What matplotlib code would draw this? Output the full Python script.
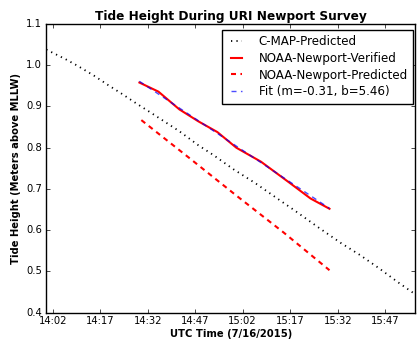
# tide height comparison plot, recreated from the survey figure
import matplotlib
matplotlib.use('Agg')
import matplotlib.pyplot as plt
import numpy as np

'''data (decimal hours UTC, meters above MLLW)'''
cmap_t = [14.00, 14.10, 14.167, 14.25, 14.325, 14.40, 14.475, 14.55, 14.70, 14.80,
          14.88, 14.984, 15.10, 15.24, 15.30, 15.437, 15.55, 15.65, 15.75, 15.85, 15.94]
cmap_h = [1.038, 1.015, 0.998, 0.975, 0.952, 0.930, 0.907, 0.885, 0.840, 0.806,
          0.782, 0.748, 0.714, 0.669, 0.650, 0.605, 0.569, 0.540, 0.508, 0.474, 0.445]

verified_t = [14.49, 14.59, 14.70, 14.80, 14.90, 15.00, 15.13, 15.28, 15.39, 15.49]
verified_h = [0.958, 0.936, 0.893, 0.864, 0.838, 0.800, 0.766, 0.715, 0.677, 0.652]

predicted_t = [14.50, 14.75, 15.00, 15.25, 15.49]
predicted_h = [0.867, 0.776, 0.684, 0.594, 0.503]

fit_t = [14.49, 15.49]
fit_h = [0.961, 0.653]

xtick_labels = ['14:02', '14:17', '14:32', '14:47', '15:02', '15:17', '15:32', '15:47']
ytick_vals = [0.4, 0.5, 0.6, 0.7, 0.8, 0.9, 1.0, 1.1]

'''plot'''
plt.style.use('classic')
W, H = 419, 341
fig = plt.figure(figsize=(W / 100, H / 100), dpi=100, facecolor='white')
ax = fig.add_axes([46.3 / W, 1 - 312.7 / H, (415 - 46.3) / W, (312.7 - 24) / H])

ax.plot(cmap_t, cmap_h, color='k', lw=1.3, dashes=(0.9, 3.0), label='C-MAP-Predicted')
ax.plot(verified_t, verified_h, color='r', lw=1.5, label='NOAA-Newport-Verified')
ax.plot(predicted_t, predicted_h, color='r', lw=1.5, dashes=(3.6, 3.2),
        label='NOAA-Newport-Predicted')
ax.plot(fit_t, fit_h, color='b', lw=1, alpha=0.7, dashes=(3.6, 3.2),
        label='Fit (m=-0.31, b=5.46)')

# formatting stuff
ax.set_xlim(14.0, 15.94)
ax.set_ylim(0.4, 1.1)
xticks = [14 + 2 / 60 + 0.25 * i for i in range(len(xtick_labels))]
ax.set_xticks(xticks)
ax.set_xticklabels(xtick_labels)
ax.set_yticks(ytick_vals)
ax.set_yticklabels(['%.1f' % v for v in ytick_vals])
ax.tick_params(labelsize=7.2, length=2.8)
ax.tick_params(axis='x', pad=2.5)
ax.tick_params(axis='y', pad=3)

ax.set_title('Tide Height During URI Newport Survey', fontsize=8.7, fontweight='bold', pad=3)
ax.set_xlabel('UTC Time (7/16/2015)', fontsize=7.2, fontweight='bold', labelpad=2)
ax.set_ylabel('Tide Height (Meters above MLLW)', fontsize=7.2, fontweight='bold', labelpad=4)

# legend box pinned to where it sits in the original
ax.legend(loc='upper right', bbox_to_anchor=(413.3 / W, 1 - 30 / H),
          bbox_transform=fig.transFigure, borderaxespad=0,
          prop={'size': 8.6}, handlelength=1.5, handletextpad=1.1,
          borderpad=0.45, labelspacing=0.3, fancybox=False, numpoints=2)

fig.savefig('out.png', dpi=100, facecolor='white')
